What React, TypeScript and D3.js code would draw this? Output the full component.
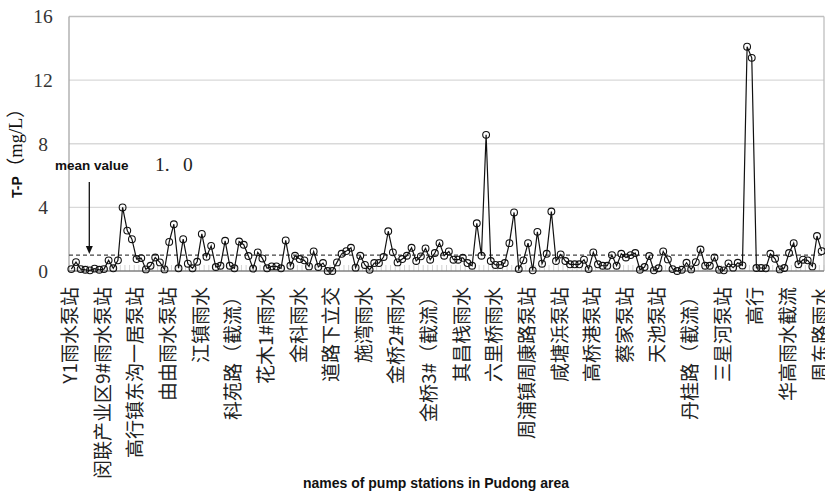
import React from 'react';
import * as d3 from 'd3';

const values: number[] = [
  0.12, 0.56, 0.12, 0.08, 0.04, 0.15, 0.08, 0.12, 0.67, 0.17,
  0.67, 4.0, 2.54, 2.0, 0.75, 0.81, 0.1, 0.33, 0.85, 0.54,
  0.1, 1.83, 2.94, 0.17, 2.0, 0.46, 0.17, 0.58, 2.33, 0.9,
  1.58, 0.25, 0.33, 1.9, 0.33, 0.17, 1.85, 1.65, 0.94, 0.15,
  1.17, 0.79, 0.17, 0.29, 0.29, 0.17, 1.92, 0.33, 0.96, 0.75,
  0.67, 0.29, 1.23, 0.25, 0.5, 0.0, 0.0, 0.54, 1.08, 1.25,
  1.46, 0.21, 0.96, 0.38, 0.08, 0.5, 0.5, 0.88, 2.5, 1.17,
  0.54, 0.75, 0.96, 1.46, 0.63, 0.92, 1.42, 0.71, 1.13, 1.75,
  0.96, 1.23, 0.71, 0.71, 0.83, 0.5, 0.33, 3.0, 0.96, 8.56,
  0.63, 0.38, 0.38, 0.5, 1.75, 3.68, 0.12, 0.67, 1.75, 0.04,
  2.46, 0.46, 1.08, 3.74, 0.63, 1.04, 0.63, 0.42, 0.42, 0.42,
  0.71, 0.12, 1.17, 0.42, 0.33, 0.33, 1.0, 0.33, 1.08, 0.85,
  1.0, 1.13, 0.08, 0.25, 0.94, 0.04, 0.17, 1.23, 0.73, 0.12,
  0.0, 0.08, 0.52, 0.1, 0.56, 1.35, 0.33, 0.33, 0.85, 0.08,
  0.04, 0.48, 0.21, 0.52, 0.35, 14.1, 13.4, 0.19, 0.19, 0.17,
  1.08, 0.77, 0.1, 0.19, 1.13, 1.75, 0.42, 0.71, 0.67, 0.29,
  2.2, 1.25,
];

const labelStep = 7;
const stationLabels: string[] = [
  'Y1雨水泵站', '闵联产业区9#雨水泵站', '高行镇东沟一居泵站', '由由雨水泵站',
  '江镇雨水', '科苑路（截流）', '花木1#雨水', '金科雨水', '道路下立交',
  '施湾雨水', '金桥2#雨水', '金桥3#（截流）', '其昌栈雨水', '六里桥雨水',
  '周浦镇周康路泵站', '咸塘浜泵站', '高桥港泵站', '蔡家泵站', '天池泵站',
  '丹桂路（截流）', '三星河泵站', '高行', '华高雨水截流', '周东路雨水',
];

const yTicks: number[] = [0, 4, 8, 12, 16];
const gridValues: number[] = [4, 8, 12];
const meanValue = 1.0;

const W = 825;
const H = 494;
const left = 69;
const right = 824;
const top = 16.5;
const bottom = 271;

export default function App() {
  const idx = d3.range(values.length);
  const x = d3.scalePoint<number>().domain(idx).range([left, right]).padding(0.5);
  const step = x.step();
  const y = d3.scaleLinear().domain([0, 16]).range([bottom, top]);
  const line = d3
    .line<number>()
    .x((_, i) => x(i) as number)
    .y((d) => y(d));

  const serif = "'Liberation Serif', 'Noto Sans CJK SC', serif";
  const cjk = "'Noto Sans CJK SC', 'Liberation Serif', sans-serif";
  const sans = "'Liberation Sans', Arial, sans-serif";

  return (
    <div style={{ position: 'absolute', left: 0, top: 0 }}>
      <svg width={W} height={H} viewBox={`0 0 ${W} ${H}`} style={{ display: 'block', background: '#fff' }}>
        <rect x={0} y={0} width={W} height={H} fill="#fff" />
        {gridValues.map((g) => (
          <line key={g} x1={left} x2={right} y1={y(g)} y2={y(g)} stroke="#d9d9d9" strokeWidth={1.3} />
        ))}
        <line x1={left} x2={right} y1={top} y2={top} stroke="#bfbfbf" strokeWidth={1.3} />
        <line x1={right} x2={right} y1={top} y2={bottom} stroke="#bfbfbf" strokeWidth={1.3} />
        <line x1={left} x2={left} y1={top} y2={bottom} stroke="#a6a6a6" strokeWidth={1.3} />
        {d3.range(values.length + 1).map((k) => {
          const xx = left + k * step;
          return <line key={'t' + k} x1={xx} x2={xx} y1={bottom - 6} y2={bottom} stroke="#c8c8c8" strokeWidth={0.8} />;
        })}
        <line x1={left} x2={right} y1={bottom} y2={bottom} stroke="#808080" strokeWidth={1.3} />
        <line x1={left} x2={right} y1={y(meanValue)} y2={y(meanValue)} stroke="#444" strokeWidth={1.2} strokeDasharray="4,3" />
        {yTicks.map((t) => (
          <text key={t} x={43} y={y(t)} dy="0.35em" textAnchor="middle" fontFamily={serif} fontSize={19.5} fill="#333">
            {t}
          </text>
        ))}
        <path d={line(values) || ''} fill="none" stroke="#111" strokeWidth={1.2} />
        {values.map((v, i) => (
          <circle key={'c' + i} cx={x(i)} cy={y(v)} r={3.4} fill="none" stroke="#111" strokeWidth={1.1} />
        ))}
        {stationLabels.map((s, k) => {
          const xi = x(k * labelStep) as number;
          return (
            <text
              key={'l' + k}
              transform={`translate(${xi - 1},287) rotate(-90)`}
              textAnchor="end"
              dy="0.36em"
              fontFamily={cjk}
              fontSize={19}
              fill="#222"
            >
              {s}
            </text>
          );
        })}
        <text transform="translate(22,198) rotate(-90)" textAnchor="start" fill="#111">
          <tspan fontFamily={sans} fontWeight="bold" fontSize={14}>T-P</tspan>
          <tspan fontFamily={serif} fontSize={18.5}>（mg/L）</tspan>
        </text>
        <text x={55} y={170} fontFamily={sans} fontWeight="bold" fontSize={13.5} fill="#111">mean value</text>
        <text y={171} fontFamily={serif} fontSize={19.5} fill="#222">
          <tspan x={155}>1.</tspan>
          <tspan x={183}>0</tspan>
        </text>
        <line x1={89.3} x2={89.3} y1={182} y2={247} stroke="#111" strokeWidth={1.3} />
        <path d="M85.8,246 L92.8,246 L89.3,254 Z" fill="#111" />
        <text x={436} y={488} textAnchor="middle" fontFamily={sans} fontWeight="bold" fontSize={14} fill="#111">
          names of pump stations in Pudong area
        </text>
      </svg>
    </div>
  );
}
